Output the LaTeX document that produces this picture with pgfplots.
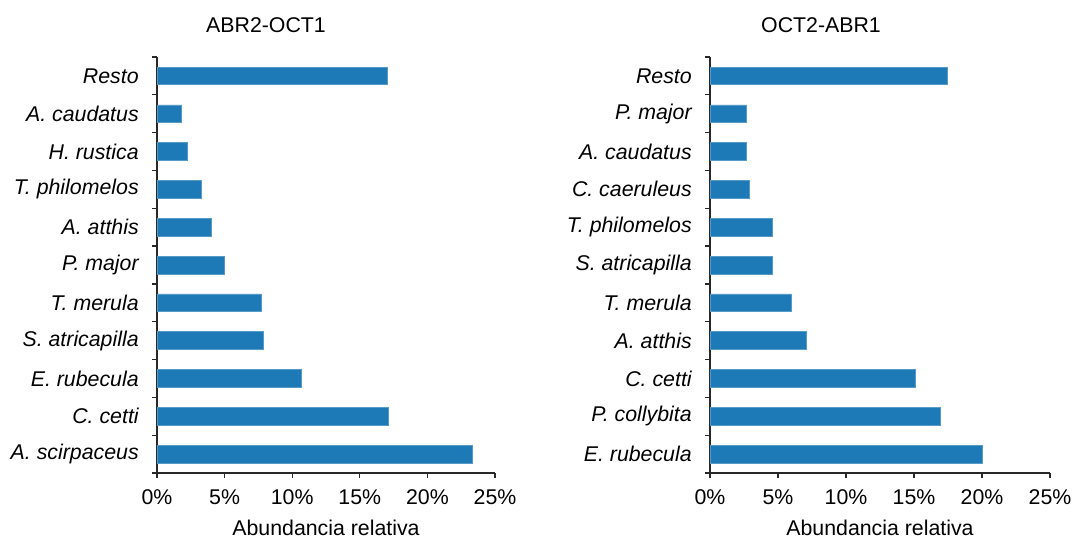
\documentclass[border=0pt]{standalone}
\usepackage{fontspec}
\setmainfont{Liberation Sans}
\usepackage{pgfplots}
\pgfplotsset{compat=1.18}
\definecolor{barblue}{RGB}{30,122,182}
\definecolor{axisgray}{RGB}{40,40,40}
\begin{document}
\fontsize{21.4}{25}\selectfont
\begin{tikzpicture}
\useasboundingbox (0bp,0bp) rectangle (1072bp,538bp);
\pgfplotsset{
  myaxis/.style={
    scale only axis, height=416bp,
    anchor=south west,
    xmin=0, xmax=25, ymin=-0.5, ymax=10.5,
    axis lines=left,
    axis line style={-, axisgray, line width=1.2bp},
    tick align=outside,
    xtick={0,5,10,15,20,25},
    xticklabels={0\%,5\%,10\%,15\%,20\%,25\%},
    ytick={0,1,2,3,4,5,6,7,8,9,10},
    major y tick style={draw=none},
    minor ytick={-0.5,0.5,1.5,2.5,3.5,4.5,5.5,6.5,7.5,8.5,9.5,10.5},
    minor tick length=5bp, major tick length=5bp,
    every tick/.style={axisgray, line width=1.2bp},
    yticklabel style={font=\itshape, xshift=-6bp},
    xticklabel style={yshift=-4bp},
    xlabel={Abundancia relativa},
    xlabel style={yshift=-1bp},
    xbar, bar width=0.47,
  },
  mybar/.style={fill=barblue, draw=barblue!75!white, line width=0.6bp},
}
\begin{axis}[myaxis, at={(157bp,65bp)}, width=338bp,
  yticklabels={A. scirpaceus,C. cetti,E. rubecula,S. atricapilla,T. merula,P. major,A. atthis,T. philomelos,H. rustica,A. caudatus,Resto}]
\addplot[mybar] coordinates {(23.35,0) (17.12,1) (10.64,2) (7.88,3) (7.68,4) (4.98,5) (4.04,6) (3.28,7) (2.27,8) (1.82,9) (17.04,10)};
\end{axis}
\begin{axis}[myaxis, at={(710bp,65bp)}, width=340bp,
  yticklabels={E. rubecula,P. collybita,C. cetti,A. atthis,T. merula,S. atricapilla,T. philomelos,C. caeruleus,A. caudatus,P. major,Resto}]
\addplot[mybar] coordinates {(19.99,0) (16.95,1) (15.09,2) (7.09,3) (5.96,4) (4.56,5) (4.56,6) (2.92,7) (2.70,8) (2.70,9) (17.44,10)};
\end{axis}
\node at (266bp,513bp) {ABR2-OCT1};
\node at (821bp,513bp) {OCT2-ABR1};
\end{tikzpicture}
\end{document}
